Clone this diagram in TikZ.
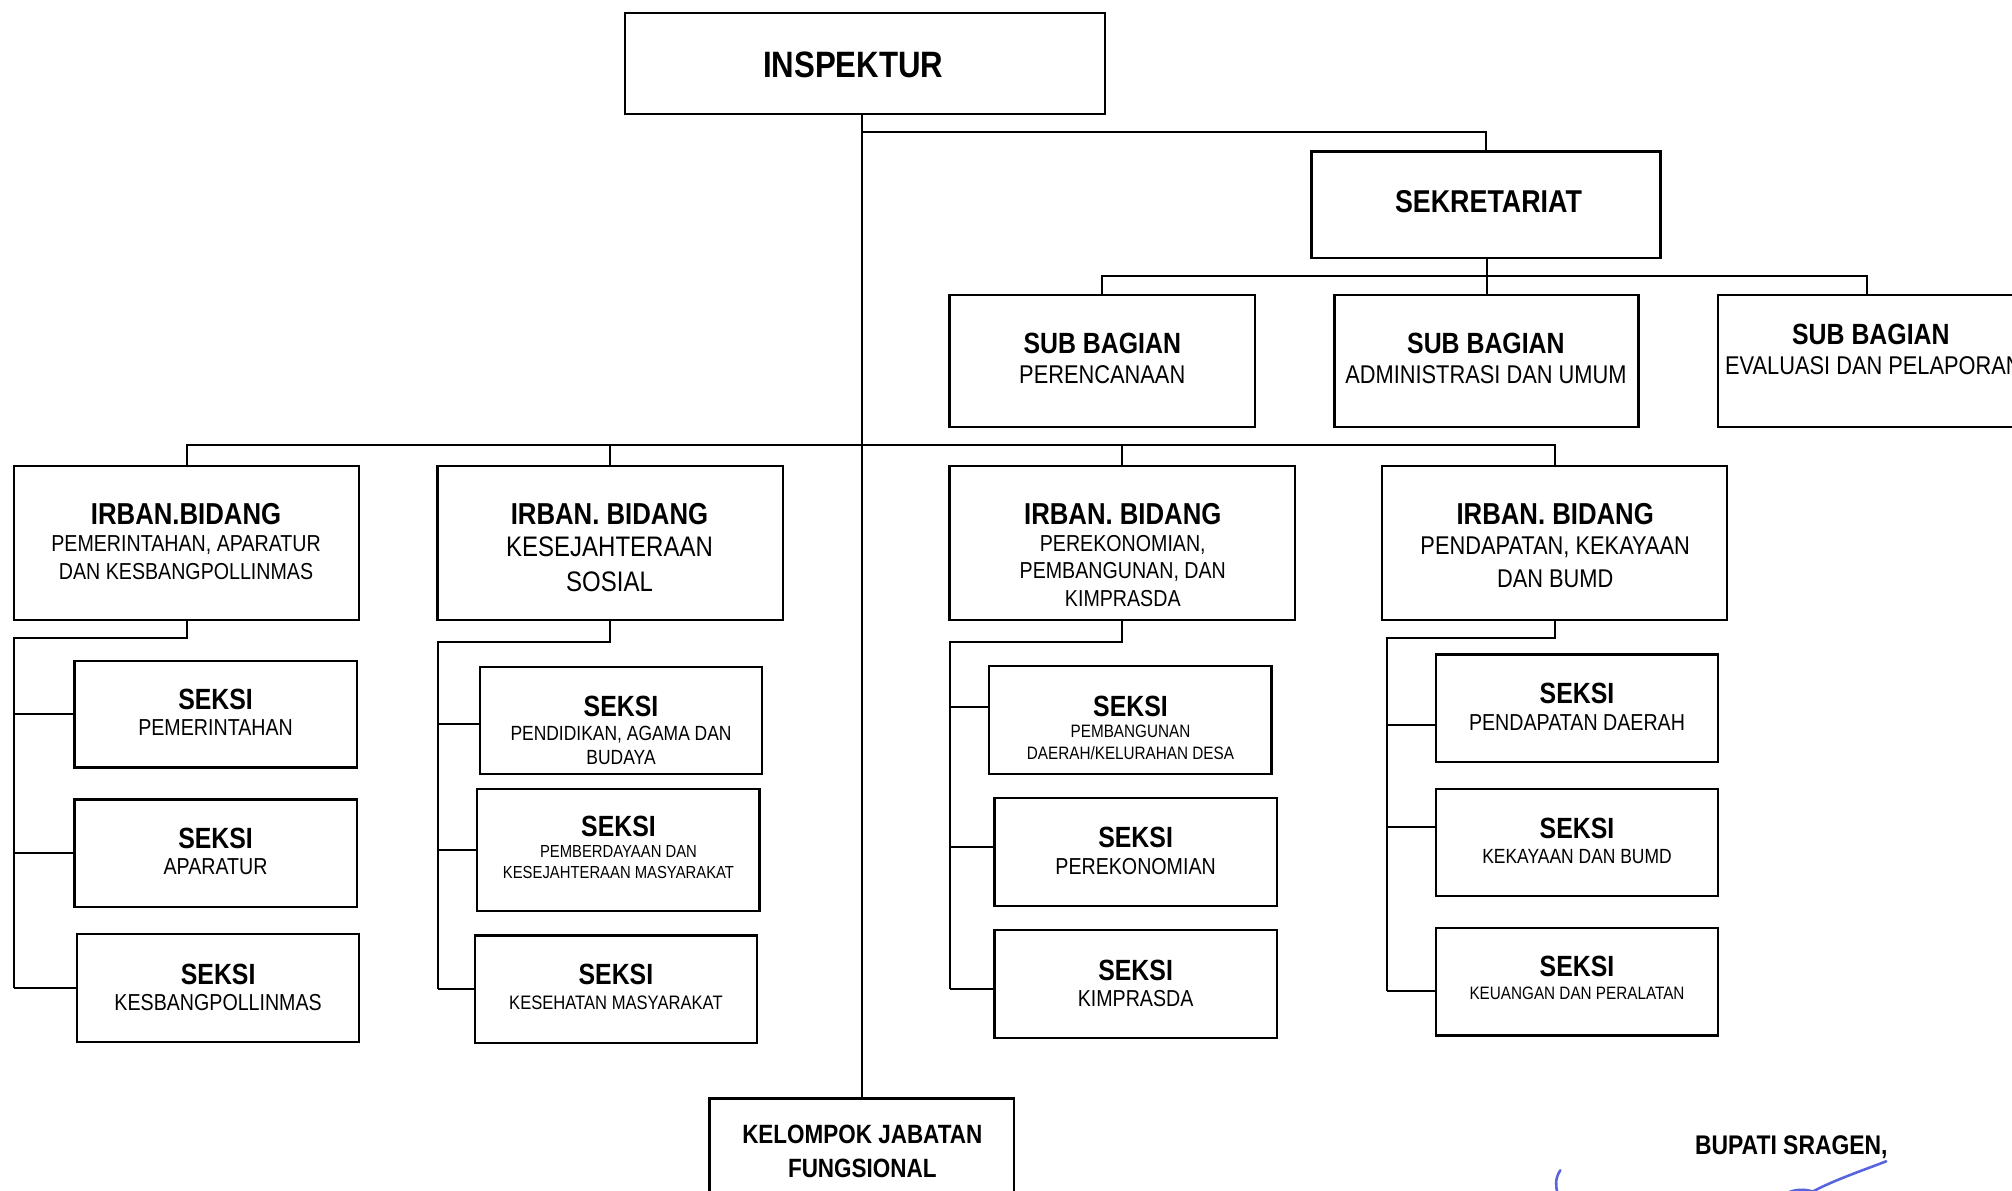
\documentclass[tikz,border=0pt]{standalone}
\usepackage{fontspec}
\setmainfont{Liberation Sans}[FakeStretch=0.85]
\definecolor{sigblue}{RGB}{88,100,222}
\tikzset{
  boxst/.style={draw=black, line width=0.9pt, inner sep=0pt, outer sep=0pt, fill=white},
  conn/.style={draw=black, line width=0.75pt},
  sig/.style={draw=sigblue, line width=1pt, line cap=round}
}
% box: name x1 y1 x2 y2
\newcommand\bx[5]{\pgfmathsetmacro\bxw{(#4-#2)*0.5}\pgfmathsetmacro\bxh{(#5-#3)*0.5}%
  \node[boxst, minimum width=\bxw pt, minimum height=\bxh pt] (#1) at ({(#2+#4)/2},{(#3+#5)/2}) {};}
% text line: name x ycenter size fontcmd text
\newcommand\tx[6]{\node[anchor=base, inner sep=0pt, font=#5\fontsize{#4pt}{#4pt}\selectfont] (#1) at (#2,{#3+0.716*#4}) {#6};}
\begin{document}
\begin{tikzpicture}[x=0.5pt, y=-0.5pt]
\useasboundingbox (0,0) rectangle (1568,928);
\clip (0,0) rectangle (1568,928);
\fill[white] (0,0) rectangle (1568,928);

% ---------- boxes ----------
\bx{insp}{487}{10}{861}{89}
\bx{sek}{1022}{118}{1294}{201}
\bx{sb1}{740}{230}{978}{333}
\bx{sb2}{1040}{230}{1277}{333}
\bx{sb3}{1339}{230}{1571}{333}
\bx{ir1}{11}{363}{280}{483}
\bx{ir2}{341}{363}{610}{483}
\bx{ir3}{740}{363}{1009}{483}
\bx{ir4}{1077}{363}{1346}{483}
\bx{s11}{58}{515}{278}{598}
\bx{s12}{58}{623}{278}{707}
\bx{s13}{60}{728}{280}{812}
\bx{s21}{374}{520}{594}{603}
\bx{s22}{372}{615}{592}{710}
\bx{s23}{370}{729}{590}{813}
\bx{s31}{771}{519}{991}{603}
\bx{s32}{775}{622}{995}{706}
\bx{s33}{775}{725}{995}{809}
\bx{s41}{1119}{510}{1339}{594}
\bx{s42}{1119}{615}{1339}{698}
\bx{s43}{1119}{723}{1339}{807}
\bx{kel}{553}{856}{790}{945}

% ---------- connectors ----------
\coordinate (j1) at (671,103);
\coordinate (j2) at (1158,215);
\coordinate (j3) at (671,347);
\draw[conn] (kel.north |- insp.south) -- (kel.north);
\draw[conn] (j1) -| (sek.north);
\draw[conn] (sb2.north) -- (sb2.north |- sek.south);
\draw[conn] (sb1.north) |- (j2) -| (sb3.north);
\draw[conn] (ir1.north) |- (j3) -| (ir4.north);
\draw[conn] (ir2.north) -- (ir2.north |- j3);
\draw[conn] (ir3.north) -- (ir3.north |- j3);

\coordinate (c1) at (11,497);
\coordinate (c2) at (341,500);
\coordinate (c3) at (740,500);
\coordinate (c4) at (1081,497);
\coordinate (b21) at ([yshift=-1.5pt]s21.west);
\coordinate (b31) at ([yshift=5pt]s31.west);
\coordinate (b32) at ([yshift=2pt]s32.west);
\coordinate (b33) at ([yshift=-2pt]s33.west);
\coordinate (b41) at ([yshift=-6.5pt]s41.west);
\coordinate (b42) at ([yshift=6pt]s42.west);
\coordinate (b43) at ([yshift=-3.5pt]s43.west);
\draw[conn] (ir1.south) |- (c1) -- (c1 |- s13.west);
\draw[conn] (c1 |- s11.west) -- (s11.west);
\draw[conn] (c1 |- s12.west) -- (s12.west);
\draw[conn] (c1 |- s13.west) -- (s13.west);
\draw[conn] (ir2.south) |- (c2) -- (c2 |- s23.west);
\draw[conn] (c2 |- b21) -- (b21);
\draw[conn] (c2 |- s22.west) -- (s22.west);
\draw[conn] (c2 |- s23.west) -- (s23.west);
\draw[conn] (ir3.south) |- (c3) -- (c3 |- b33);
\draw[conn] (c3 |- b31) -- (b31);
\draw[conn] (c3 |- b32) -- (b32);
\draw[conn] (c3 |- b33) -- (b33);
\draw[conn] (ir4.south) |- (c4) -- (c4 |- b43);
\draw[conn] (c4 |- b41) -- (b41);
\draw[conn] (c4 |- b42) -- (b42);
\draw[conn] (c4 |- b43) -- (b43);

% ---------- texts ----------
\tx{t-insp}{665}{50}{14.3}{\bfseries}{INSPEKTUR}
\tx{t-sek}{1160}{157}{12.3}{\bfseries}{SEKRETARIAT}
\tx{t-sb1a}{859}{267}{11.4}{\bfseries}{SUB BAGIAN}
\tx{t-sb1b}{859}{292}{10}{}{PERENCANAAN}
\tx{t-sb2a}{1158}{267}{11.4}{\bfseries}{SUB BAGIAN}
\tx{t-sb2b}{1158}{292}{10}{}{ADMINISTRASI DAN UMUM}
\tx{t-sb3a}{1458}{260}{11.4}{\bfseries}{SUB BAGIAN}
\tx{t-sb3b}{1460}{285}{10}{}{EVALUASI DAN PELAPORAN}

\tx{t-ir1a}{145}{400}{11.8}{\bfseries}{IRBAN.BIDANG}
\tx{t-ir1b}{145}{423}{9}{}{PEMERINTAHAN, APARATUR}
\tx{t-ir1c}{145}{445}{9}{}{DAN KESBANGPOLLINMAS}
\tx{t-ir2a}{475}{400}{11.8}{\bfseries}{IRBAN. BIDANG}
\tx{t-ir2b}{475}{426}{11}{}{KESEJAHTERAAN}
\tx{t-ir2c}{475}{453}{11}{}{SOSIAL}
\tx{t-ir3a}{875}{400}{11.8}{\bfseries}{IRBAN. BIDANG}
\tx{t-ir3b}{875}{423}{9}{}{PEREKONOMIAN,}
\tx{t-ir3c}{875}{444}{9}{}{PEMBANGUNAN, DAN}
\tx{t-ir3d}{875}{466}{9}{}{KIMPRASDA}
\tx{t-ir4a}{1212}{400}{11.8}{\bfseries}{IRBAN. BIDANG}
\tx{t-ir4b}{1212}{425}{10}{}{PENDAPATAN, KEKAYAAN}
\tx{t-ir4c}{1212}{451}{10}{}{DAN BUMD}

\tx{t-s11a}{168}{545}{11.4}{\bfseries}{SEKSI}
\tx{t-s11b}{168}{567}{9}{}{PEMERINTAHAN}
\tx{t-s12a}{168}{653}{11.4}{\bfseries}{SEKSI}
\tx{t-s12b}{168}{675}{9}{}{APARATUR}
\tx{t-s13a}{170}{759}{11.4}{\bfseries}{SEKSI}
\tx{t-s13b}{170}{781}{9}{}{KESBANGPOLLINMAS}

\tx{t-s21a}{484}{550}{11.4}{\bfseries}{SEKSI}
\tx{t-s21b}{484}{571}{8}{}{PENDIDIKAN, AGAMA DAN}
\tx{t-s21c}{484}{590}{8}{}{BUDAYA}
\tx{t-s22a}{482}{644}{11.4}{\bfseries}{SEKSI}
\tx{t-s22b}{482}{663}{6.8}{}{PEMBERDAYAAN DAN}
\tx{t-s22c}{482}{680}{6.8}{}{KESEJAHTERAAN MASYARAKAT}
\tx{t-s23a}{480}{759}{11.4}{\bfseries}{SEKSI}
\tx{t-s23b}{480}{781}{7.6}{}{KESEHATAN MASYARAKAT}

\tx{t-s31a}{881}{550}{11.4}{\bfseries}{SEKSI}
\tx{t-s31b}{881}{570}{7}{}{PEMBANGUNAN}
\tx{t-s31c}{881}{587}{7}{}{DAERAH/KELURAHAN DESA}
\tx{t-s32a}{885}{652}{11.4}{\bfseries}{SEKSI}
\tx{t-s32b}{885}{675}{9}{}{PEREKONOMIAN}
\tx{t-s33a}{885}{756}{11.4}{\bfseries}{SEKSI}
\tx{t-s33b}{885}{778}{9}{}{KIMPRASDA}

\tx{t-s41a}{1229}{540}{11.4}{\bfseries}{SEKSI}
\tx{t-s41b}{1229}{563}{9}{}{PENDAPATAN DAERAH}
\tx{t-s42a}{1229}{645}{11.4}{\bfseries}{SEKSI}
\tx{t-s42b}{1229}{667}{8}{}{KEKAYAAN DAN BUMD}
\tx{t-s43a}{1229}{753}{11.4}{\bfseries}{SEKSI}
\tx{t-s43b}{1229}{774}{7}{}{KEUANGAN DAN PERALATAN}

\tx{t-kela}{672}{884}{10.3}{\bfseries}{KELOMPOK JABATAN}
\tx{t-kelb}{672}{910}{10.3}{\bfseries}{FUNGSIONAL}
\tx{t-bup}{1396}{892}{10.5}{\bfseries}{BUPATI SRAGEN,}

% ---------- signature strokes ----------
\draw[sig] (1216,912) .. controls (1212,918) and (1212,924) .. (1214,930);
\draw[sig] (1470,905) .. controls (1452,912) and (1428,920) .. (1410,930);
\draw[sig] (1392,930) .. controls (1398,927) and (1406,926) .. (1414,929);
\end{tikzpicture}
\end{document}
